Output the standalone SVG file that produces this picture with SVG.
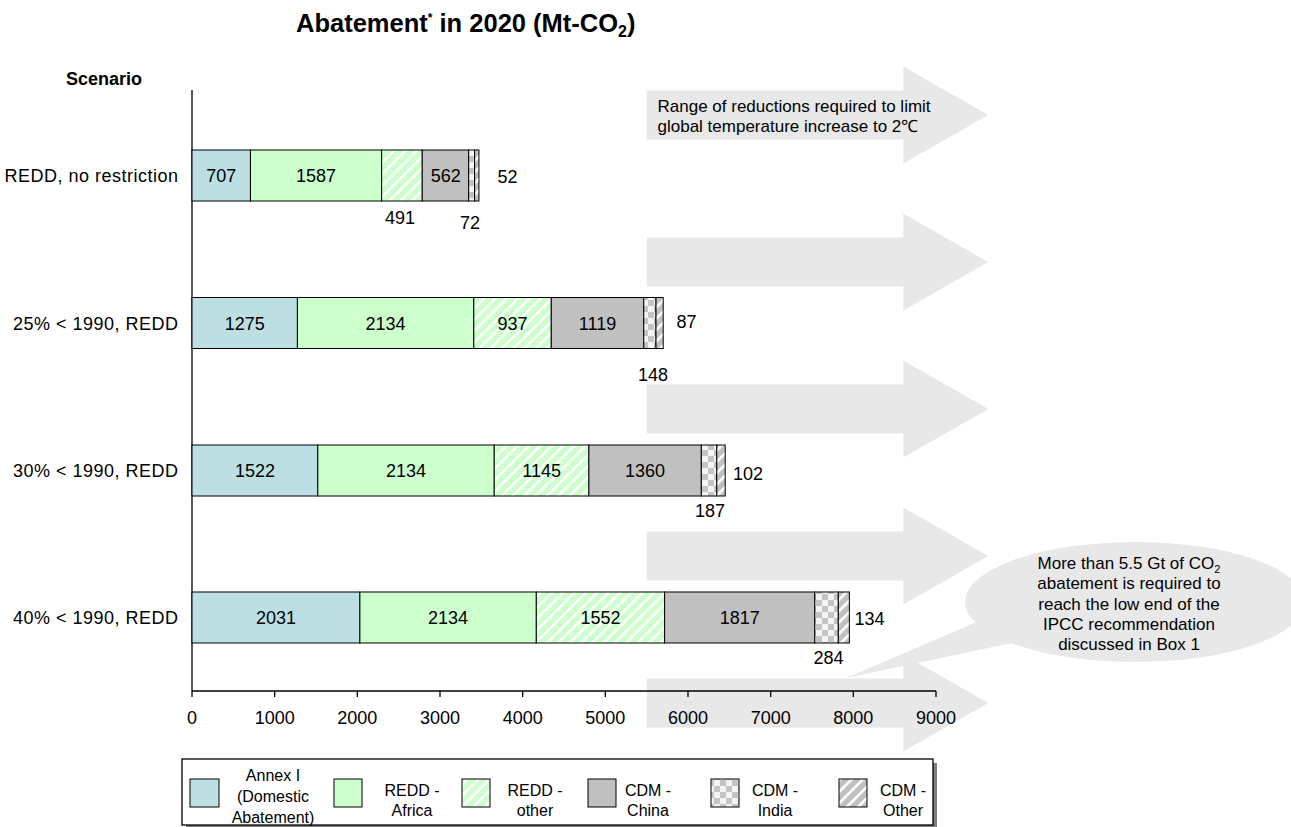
<svg xmlns="http://www.w3.org/2000/svg" width="1291" height="827" viewBox="0 0 1291 827">
<style>
text{font-family:"Liberation Sans",Arial,sans-serif;fill:#000}
.t18{font-size:18px}
.t17{font-size:17px}
.t16{font-size:16px}
.mid{text-anchor:middle}
.end{text-anchor:end}
.scen{letter-spacing:0.5px}
.bg{fill:#e8e8e8;stroke:none}
.seg{stroke:#000;stroke-width:1}
.annex{fill:#bcdfe3}
.africa{fill:#ccffcc}
.reddo{fill:url(#stripeG)}
.china{fill:#c0c0c0}
.india{fill:url(#checker)}
.cdmo{fill:url(#stripeC)}
.axis{stroke:#000;stroke-width:1.3;fill:none}
</style>
<defs>
<pattern id="stripeG" patternUnits="userSpaceOnUse" width="8" height="8" patternTransform="rotate(45)">
<rect width="8" height="8" fill="#ccffcc"/>
<rect x="0" width="2.6" height="8" fill="#ffffff"/>
</pattern>
<pattern id="stripeC" patternUnits="userSpaceOnUse" width="8" height="8" patternTransform="rotate(45)">
<rect width="8" height="8" fill="#c0c0c0"/>
<rect x="0" width="2.6" height="8" fill="#ffffff"/>
</pattern>
<pattern id="checker" patternUnits="userSpaceOnUse" width="12" height="12">
<rect width="12" height="12" fill="#f4f4f4"/>
<rect width="6" height="6" fill="#c4c4c4"/>
<rect x="6" y="6" width="6" height="6" fill="#c4c4c4"/>
</pattern>
<path id="bigArrow" d="M0,-24.5 H256.6 V-48.5 L341.6,0 L256.6,48.5 V24.5 H0 Z"/>
</defs>

<rect width="1291" height="827" fill="#ffffff"/>

<g id="arrows">
<use href="#bigArrow" class="bg" transform="translate(646.7,115)"/>
<use href="#bigArrow" class="bg" transform="translate(646.7,262)"/>
<use href="#bigArrow" class="bg" transform="translate(646.7,409)"/>
<use href="#bigArrow" class="bg" transform="translate(646.7,556)"/>
<use href="#bigArrow" class="bg" transform="translate(646.7,703)"/>
<text class="t17" x="657.5" y="112">Range of reductions required to limit</text>
<text class="t17" x="657.5" y="132">global temperature increase to 2℃</text>
</g>

<g id="callout">
<polygon class="bg" points="846,678 1000,612 1012,643"/>
<ellipse class="bg" cx="1135" cy="602" rx="170" ry="60"/>
<text class="t17 mid" x="1129" y="569">More than 5.5 Gt of CO<tspan font-size="11" dy="4">2</tspan></text>
<text class="t17 mid" x="1129" y="589">abatement is required to</text>
<text class="t17 mid" x="1129" y="609.5">reach the low end of the</text>
<text class="t17 mid" x="1129" y="630">IPCC recommendation</text>
<text class="t17 mid" x="1129" y="650">discussed in Box 1</text>
</g>

<g id="title">
<text x="296" y="32" font-size="25.5" font-weight="bold">Abatement<tspan font-size="12" dy="-10">*</tspan><tspan dy="10"> in 2020 (Mt-CO</tspan><tspan font-size="16" dy="5">2</tspan><tspan dy="-5">)</tspan></text>
<text x="66" y="85" class="t18" font-weight="bold">Scenario</text>
</g>

<g id="axes">
<line class="axis" x1="192" y1="90" x2="192" y2="691"/>
<line class="axis" x1="192" y1="691" x2="936" y2="691"/>
<path class="axis" d="M192,691V697M274.7,691V697M357.3,691V697M440,691V697M522.7,691V697M605.3,691V697M688,691V697M770.7,691V697M853.3,691V697M936,691V697"/>
<g class="t18 mid">
<text x="192" y="723.5">0</text>
<text x="274.7" y="723.5">1000</text>
<text x="357.3" y="723.5">2000</text>
<text x="440" y="723.5">3000</text>
<text x="522.7" y="723.5">4000</text>
<text x="605.3" y="723.5">5000</text>
<text x="688" y="723.5">6000</text>
<text x="770.7" y="723.5">7000</text>
<text x="853.3" y="723.5">8000</text>
<text x="936" y="723.5">9000</text>
</g>
</g>

<g id="bar-redd-no-restriction">
<text class="t18 end scen" x="178.5" y="182">REDD, no restriction</text>
<rect class="seg annex" x="192" y="150" width="58.45" height="51"/>
<rect class="seg africa" x="250.45" y="150" width="131.19" height="51"/>
<rect class="seg reddo" x="381.64" y="150" width="40.59" height="51"/>
<rect class="seg china" x="422.23" y="150" width="46.46" height="51"/>
<rect class="seg india" x="468.69" y="150" width="5.95" height="51"/>
<rect class="seg cdmo" x="474.64" y="150" width="4.3" height="51"/>
<text class="t18 mid" x="221.2" y="182">707</text>
<text class="t18 mid" x="316" y="182">1587</text>
<text class="t18 mid" x="445.7" y="182">562</text>
<text class="t18 mid" x="400" y="224">491</text>
<text class="t18 mid" x="470" y="229">72</text>
<text class="t18 mid" x="507.5" y="183">52</text>
</g>

<g id="bar-25pct">
<text class="t18 end scen" x="178.5" y="329.5">25% &lt; 1990, REDD</text>
<rect class="seg annex" x="192" y="297.5" width="105.4" height="51"/>
<rect class="seg africa" x="297.4" y="297.5" width="176.41" height="51"/>
<rect class="seg reddo" x="473.81" y="297.5" width="77.46" height="51"/>
<rect class="seg china" x="551.27" y="297.5" width="92.5" height="51"/>
<rect class="seg india" x="643.77" y="297.5" width="12.24" height="51"/>
<rect class="seg cdmo" x="656.01" y="297.5" width="7.19" height="51"/>
<text class="t18 mid" x="244.7" y="329.5">1275</text>
<text class="t18 mid" x="385.6" y="329.5">2134</text>
<text class="t18 mid" x="512.5" y="329.5">937</text>
<text class="t18 mid" x="597.5" y="329.5">1119</text>
<text class="t18 mid" x="653" y="381">148</text>
<text class="t18 mid" x="686.5" y="328">87</text>
</g>

<g id="bar-30pct">
<text class="t18 end scen" x="178.5" y="477">30% &lt; 1990, REDD</text>
<rect class="seg annex" x="192" y="445" width="125.82" height="51"/>
<rect class="seg africa" x="317.82" y="445" width="176.41" height="51"/>
<rect class="seg reddo" x="494.23" y="445" width="94.65" height="51"/>
<rect class="seg china" x="588.88" y="445" width="112.43" height="51"/>
<rect class="seg india" x="701.31" y="445" width="15.46" height="51"/>
<rect class="seg cdmo" x="716.77" y="445" width="8.43" height="51"/>
<text class="t18 mid" x="254.9" y="477">1522</text>
<text class="t18 mid" x="406" y="477">2134</text>
<text class="t18 mid" x="541.6" y="477">1145</text>
<text class="t18 mid" x="645.1" y="477">1360</text>
<text class="t18 mid" x="710" y="516.5">187</text>
<text class="t18 mid" x="748" y="480">102</text>
</g>

<g id="bar-40pct">
<text class="t18 end scen" x="178.5" y="624">40% &lt; 1990, REDD</text>
<rect class="seg annex" x="192" y="592" width="167.9" height="51"/>
<rect class="seg africa" x="359.9" y="592" width="176.41" height="51"/>
<rect class="seg reddo" x="536.31" y="592" width="128.3" height="51"/>
<rect class="seg china" x="664.61" y="592" width="150.2" height="51"/>
<rect class="seg india" x="814.81" y="592" width="23.48" height="51"/>
<rect class="seg cdmo" x="838.29" y="592" width="11.08" height="51"/>
<text class="t18 mid" x="276" y="624">2031</text>
<text class="t18 mid" x="448.1" y="624">2134</text>
<text class="t18 mid" x="600.5" y="624">1552</text>
<text class="t18 mid" x="739.7" y="624">1817</text>
<text class="t18 mid" x="828.5" y="663.5">284</text>
<text class="t18 mid" x="869.5" y="624.5">134</text>
</g>

<g id="legend">
<rect x="186" y="763" width="751" height="70" fill="#808080"/>
<rect x="182" y="759" width="751" height="66" fill="#ffffff" stroke="#000" stroke-width="1.3"/>
<rect class="seg annex" x="190" y="779" width="29" height="28"/>
<text class="t16 mid" x="273" y="780.5">Annex I</text>
<text class="t16 mid" x="273" y="802">(Domestic</text>
<text class="t16 mid" x="273" y="823">Abatement)</text>
<rect class="seg africa" x="334" y="779" width="28" height="28"/>
<text class="t16 mid" x="412" y="796">REDD -</text>
<text class="t16 mid" x="412" y="816">Africa</text>
<rect class="seg reddo" x="462" y="779" width="28" height="28"/>
<text class="t16 mid" x="535" y="796">REDD -</text>
<text class="t16 mid" x="535" y="816">other</text>
<rect class="seg china" x="588" y="779" width="28" height="28"/>
<text class="t16 mid" x="648" y="796">CDM -</text>
<text class="t16 mid" x="648" y="816">China</text>
<rect class="seg india" x="711" y="779" width="28" height="28"/>
<text class="t16 mid" x="775" y="796">CDM -</text>
<text class="t16 mid" x="775" y="816">India</text>
<rect class="seg cdmo" x="839" y="779" width="28" height="28"/>
<text class="t16 mid" x="903" y="796">CDM -</text>
<text class="t16 mid" x="903" y="816">Other</text>
</g>
</svg>
